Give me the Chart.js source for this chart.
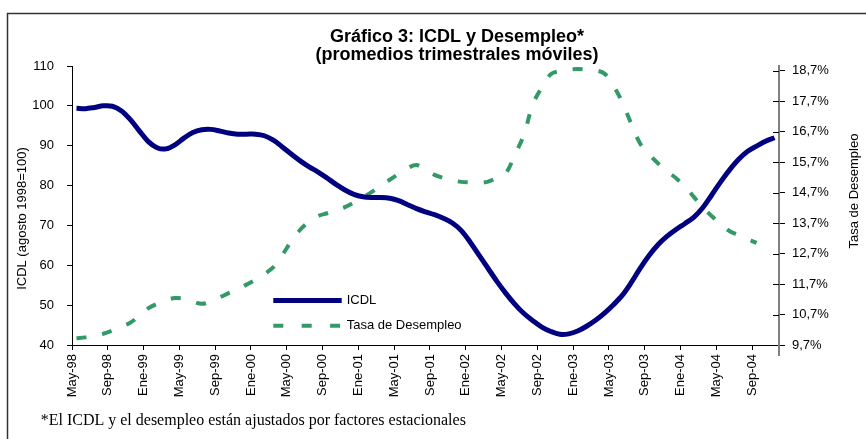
<!DOCTYPE html>
<html>
<head>
<meta charset="utf-8">
<script src="https://cdn.jsdelivr.net/npm/chart.js@4.4.1/dist/chart.umd.min.js"></script>
<style>
  html, body { margin: 0; padding: 0; background: #fff; overflow: hidden; }
  #c { display: block; }
</style>
</head>
<body>
<canvas id="c" width="866" height="439"></canvas>
<script>
// ---- Data ----
const months = [
  'May-98','Jun-98','Jul-98','Ago-98','Sep-98','Oct-98','Nov-98','Dic-98',
  'Ene-99','Feb-99','Mar-99','Abr-99','May-99','Jun-99','Jul-99','Ago-99','Sep-99','Oct-99','Nov-99','Dic-99',
  'Ene-00','Feb-00','Mar-00','Abr-00','May-00','Jun-00','Jul-00','Ago-00','Sep-00','Oct-00','Nov-00','Dic-00',
  'Ene-01','Feb-01','Mar-01','Abr-01','May-01','Jun-01','Jul-01','Ago-01','Sep-01','Oct-01','Nov-01','Dic-01',
  'Ene-02','Feb-02','Mar-02','Abr-02','May-02','Jun-02','Jul-02','Ago-02','Sep-02','Oct-02','Nov-02','Dic-02',
  'Ene-03','Feb-03','Mar-03','Abr-03','May-03','Jun-03','Jul-03','Ago-03','Sep-03','Oct-03','Nov-03','Dic-03',
  'Ene-04','Feb-04','Mar-04','Abr-04','May-04','Jun-04','Jul-04','Ago-04','Sep-04','Oct-04','Nov-04'
];

// ICDL (agosto 1998 = 100), left axis
const icdl = [
  99.4, 99.3, 99.6, 100.0, 99.9, 98.8, 96.6, 93.8, 91.1, 89.5,
  89.2, 90.2, 91.9, 93.3, 94.0, 94.1, 93.7, 93.2, 92.9, 92.9,
  92.9, 92.5, 91.4, 89.7, 87.9, 86.2, 84.7, 83.4, 81.9, 80.3,
  78.9, 77.8, 77.2, 77.0, 77.0, 76.8, 76.2, 75.2, 74.2, 73.4,
  72.7, 71.8, 70.6, 68.7, 65.8, 62.5, 59.2, 55.9, 52.9, 50.2,
  47.9, 46.1, 44.5, 43.4, 42.7, 42.8, 43.5, 44.7, 46.2, 48.0,
  50.1, 52.5, 55.7, 59.3, 62.5, 65.2, 67.3, 69.0, 70.5, 72.1,
  74.5, 77.7, 81.0, 84.0, 86.6, 88.6, 89.9, 91.1, 92.0
];

// Tasa de desempleo (%), right axis
const desempleo = [
  9.92, 9.95, 10.0, 10.07, 10.17, 10.3, 10.43, 10.65, 10.9, 11.05,
  11.17, 11.24, 11.22, 11.13, 11.05, 11.12, 11.26, 11.4, 11.52, 11.68,
  11.84, 12.03, 12.25, 12.65, 13.1, 13.48, 13.75, 13.93, 14.02, 14.11,
  14.22, 14.37, 14.54, 14.72, 14.93, 15.12, 15.31, 15.5, 15.6, 15.45,
  15.28, 15.18, 15.1, 15.05, 15.03, 15.02, 15.06, 15.18, 15.35, 15.95,
  16.6, 17.6, 18.15, 18.58, 18.68, 18.73, 18.75, 18.73, 18.71, 18.6,
  18.2, 17.65, 16.95, 16.3, 15.95, 15.65, 15.4, 15.17, 14.9, 14.55,
  14.22, 13.92, 13.67, 13.43, 13.3, 13.17, 13.05
];

// Tick labels
const leftTickValues = [40, 50, 60, 70, 80, 90, 100, 110];
const rightTickValues = [9.7, 10.7, 11.7, 12.7, 13.7, 14.7, 15.7, 16.7, 17.7, 18.7];
const rightTickLabels = ['9,7%', '10,7%', '11,7%', '12,7%', '13,7%', '14,7%', '15,7%', '16,7%', '17,7%', '18,7%'];
const xLabelEvery = 4;

const titleLines = ['Gráfico 3: ICDL y Desempleo*', '(promedios trimestrales móviles)'];
const leftTitle = 'ICDL (agosto 1998=100)';
const rightTitle = 'Tasa de Desempleo';
const footnote = '*El ICDL y el desempleo están ajustados por factores estacionales';

// ---- Styles ----
const SANS = "'Liberation Sans', Arial, sans-serif";
const SERIF = "'Liberation Serif', 'Times New Roman', serif";
const NAVY = '#000080';
const GREEN = '#339966';

Chart.defaults.font.family = SANS;
Chart.defaults.color = '#000';

const decorations = {
  id: 'decorations',
  beforeDraw(chart) {
    const ctx = chart.ctx;
    ctx.save();
    // outer frame (cut by the picture at right and bottom)
    ctx.strokeStyle = '#333';
    ctx.lineWidth = 1.5;
    ctx.beginPath();
    ctx.moveTo(7.5, chart.height + 5);
    ctx.lineTo(7.5, 13.5);
    ctx.lineTo(chart.width + 5, 13.5);
    ctx.stroke();
    ctx.restore();
  },
  afterDraw(chart) {
    const ctx = chart.ctx;
    const ca = chart.chartArea;
    const s1 = chart.scales.y1;
    ctx.save();

    // inner half of the cross tick marks on the right axis
    ctx.strokeStyle = '#000';
    ctx.lineWidth = 1;
    ctx.beginPath();
    s1.ticks.forEach((t, i) => {
      const y = Math.round(s1.getPixelForTick(i)) + 0.5;
      ctx.moveTo(s1.left - 6, y);
      ctx.lineTo(s1.left, y);
    });
    ctx.stroke();
    // right axis continues a little below the category axis
    ctx.strokeStyle = '#808080';
    ctx.lineWidth = 2;
    ctx.beginPath();
    ctx.moveTo(s1.left, ca.bottom);
    ctx.lineTo(s1.left, ca.bottom + 11);
    ctx.stroke();

    // title
    ctx.fillStyle = '#000';
    ctx.textAlign = 'center';
    ctx.textBaseline = 'alphabetic';
    ctx.font = 'bold 18px ' + SANS;
    ctx.fillText(titleLines[0], 457, 41.5);
    ctx.fillText(titleLines[1], 457, 60);

    // axis titles
    ctx.font = '13px ' + SANS;
    ctx.textBaseline = 'middle';
    ctx.save();
    ctx.translate(22.5, 218.5);
    ctx.rotate(-Math.PI / 2);
    ctx.fillText(leftTitle, 0, 0);
    ctx.restore();
    ctx.save();
    ctx.translate(854.5, 191);
    ctx.rotate(-Math.PI / 2);
    ctx.fillText(rightTitle, 0, 0);
    ctx.restore();

    // legend (inside the plot)
    const ds = chart.data.datasets;
    const lx0 = ca.left + 201.3, lx1 = ca.left + 269.7, tx = ca.left + 274.7;
    const ly = [ca.bottom - 44.6, ca.bottom - 19.3];
    ds.forEach((d, i) => {
      ctx.beginPath();
      ctx.strokeStyle = d.borderColor;
      ctx.lineWidth = d.borderWidth;
      ctx.lineCap = 'butt';
      ctx.setLineDash(d.borderDash ? [10, 18.4] : []);
      ctx.moveTo(lx0, ly[i]);
      ctx.lineTo(lx1, ly[i]);
      ctx.stroke();
      ctx.setLineDash([]);
      ctx.textAlign = 'left';
      ctx.fillStyle = '#000';
      ctx.fillText(d.label, tx, ly[i]);
    });

    // footnote
    ctx.font = '16px ' + SERIF;
    ctx.textAlign = 'left';
    ctx.textBaseline = 'alphabetic';
    ctx.fillText(footnote, 40.7, 424.5);

    ctx.restore();
  }
};

new Chart(document.getElementById('c'), {
  type: 'line',
  data: {
    labels: months,
    datasets: [
      {
        label: 'ICDL',
        data: icdl,
        yAxisID: 'y',
        borderColor: NAVY,
        borderWidth: 5,
        pointRadius: 0,
        tension: 0.35,
        fill: false,
        borderCapStyle: 'butt'
      },
      {
        label: 'Tasa de Desempleo',
        data: desempleo,
        yAxisID: 'y1',
        borderColor: GREEN,
        borderWidth: 4,
        borderDash: [10, 16],
        pointRadius: 0,
        tension: 0.35,
        fill: false,
        borderCapStyle: 'butt'
      }
    ]
  },
  options: {
    responsive: false,
    animation: false,
    devicePixelRatio: 1,
    layout: { padding: { top: 66, left: 0, right: 0, bottom: 0 } },
    plugins: {
      legend: { display: false },
      title: { display: false },
      tooltip: { enabled: false }
    },
    scales: {
      x: {
        type: 'category',
        offset: true,
        grid: {
          offset: true,
          drawOnChartArea: false,
          drawTicks: true,
          tickLength: 5,
          tickWidth: 1,
          tickColor: (ctx) => (ctx.index !== undefined && ctx.index % xLabelEvery === 0) ? '#000' : 'rgba(0,0,0,0)'
        },
        border: { display: true, color: '#000', width: 1 },
        ticks: {
          autoSkip: false,
          maxRotation: 90,
          minRotation: 90,
          padding: 4,
          labelOffset: -4.5,
          color: '#000',
          font: { size: 13 },
          callback: (v, i) => (i % xLabelEvery === 0 ? months[i] : '')
        },
        afterFit: (s) => { s.height = 94; }
      },
      y: {
        position: 'left',
        min: leftTickValues[0],
        max: leftTickValues[leftTickValues.length - 1],
        afterBuildTicks: (s) => { s.ticks = leftTickValues.map(v => ({ value: v })); },
        grid: { drawOnChartArea: false, tickLength: 5, tickColor: '#000' },
        border: { display: true, color: '#000', width: 1 },
        ticks: { padding: 13, color: '#000', font: { size: 13 } },
        afterFit: (s) => { s.width = 72; }
      },
      y1: {
        position: 'right',
        min: 9.7,
        max: 18.85,
        afterBuildTicks: (s) => { s.ticks = rightTickValues.map(v => ({ value: v })); },
        grid: { drawOnChartArea: false, tickLength: 6, tickColor: '#000' },
        border: { display: true, color: '#808080', width: 2 },
        ticks: {
          padding: 7,
          color: '#000',
          font: { size: 13 },
          callback: (v, i) => rightTickLabels[i]
        },
        afterFit: (s) => { s.width = 87; }
      }
    }
  },
  plugins: [decorations]
});
</script>
</body>
</html>
